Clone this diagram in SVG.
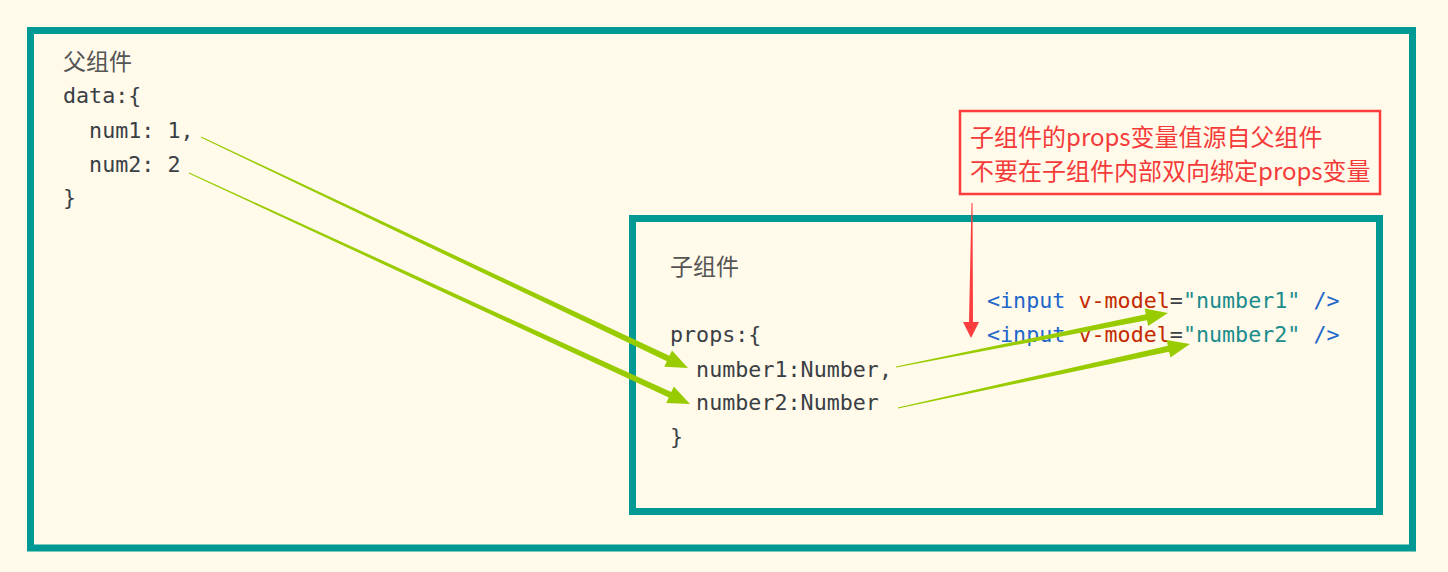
<svg xmlns="http://www.w3.org/2000/svg" width="1448" height="572" viewBox="0 0 1448 572">
<style>
.box{fill:none;stroke:#009994;stroke-width:7}
.note{fill:none;stroke:#fc3d3d;stroke-width:2.5}
.code{font-family:"DejaVu Sans Mono","Liberation Mono",monospace;font-size:21.7px;fill:#3a3f46;white-space:pre}
.title{font-family:"Noto Sans CJK SC","Noto Sans",sans-serif;font-size:23px;fill:#555555}
.red{font-family:"Noto Sans CJK SC","Noto Sans",sans-serif;font-size:24px;fill:#f53a3a}
.tag{fill:#2266cc}
.attr{fill:#c42a00}
.str{fill:#1a8c8c}
.eq{fill:#3a3f46}
.g{fill:#99cc00}
.r{fill:#fc3d3d}
</style>
<rect width="1448" height="572" fill="#fffae9"/>
<g id="parent">
<rect class="box" x="30.5" y="30.5" width="1382" height="517.5"/>
<text class="title" x="63" y="70">父组件</text>
<text class="code" x="63" y="103">data:{</text>
<text class="code" x="63" y="138">  num1: 1,</text>
<text class="code" x="63" y="172">  num2: 2</text>
<text class="code" x="63" y="205">}</text>
</g>
<g id="child">
<rect class="box" x="632.5" y="218.5" width="747" height="293"/>
<text class="title" x="670" y="275">子组件</text>
<text class="code" x="670" y="342">props:{</text>
<text class="code" x="670" y="377">  number1:Number,</text>
<text class="code" x="670" y="410">  number2:Number</text>
<text class="code" x="670" y="444">}</text>
<text class="code" x="987" y="308"><tspan class="tag">&lt;input</tspan> <tspan class="attr">v-model</tspan><tspan class="eq">=</tspan><tspan class="str">"number1"</tspan> <tspan class="tag">/&gt;</tspan></text>
<text class="code" x="987" y="342"><tspan class="tag">&lt;input</tspan> <tspan class="attr">v-model</tspan><tspan class="eq">=</tspan><tspan class="str">"number2"</tspan> <tspan class="tag">/&gt;</tspan></text>
</g>
<g id="note">
<rect class="note" x="960" y="111" width="420" height="83"/>
<text class="red" x="970" y="146">子组件的props变量值源自父组件</text>
<text class="red" x="970" y="180">不要在子组件内部双向绑定props变量</text>
</g>
<g id="connectors">
<polygon class="g" points="200.79,137.45 666.83,361.28 664.26,366.70 688,368 671.98,350.44 669.41,355.86 201.21,136.55"/>
<polygon class="g" points="188.79,173.45 668.76,397.51 666.25,402.96 690,404 673.79,386.62 671.28,392.07 189.21,172.55"/>
<polygon class="g" points="896.10,367.49 1147.00,320.22 1148.17,326.11 1168,313 1144.67,308.45 1145.84,314.34 895.90,366.51"/>
<polygon class="g" points="898.11,408.49 1169.15,351.64 1170.44,357.50 1190,344 1166.58,339.92 1167.87,345.78 897.89,407.51"/>
<polygon class="r" points="972.5,203 973,322 979,322 971,338 963,322 969,322 971.5,203"/>
</g>
</svg>
